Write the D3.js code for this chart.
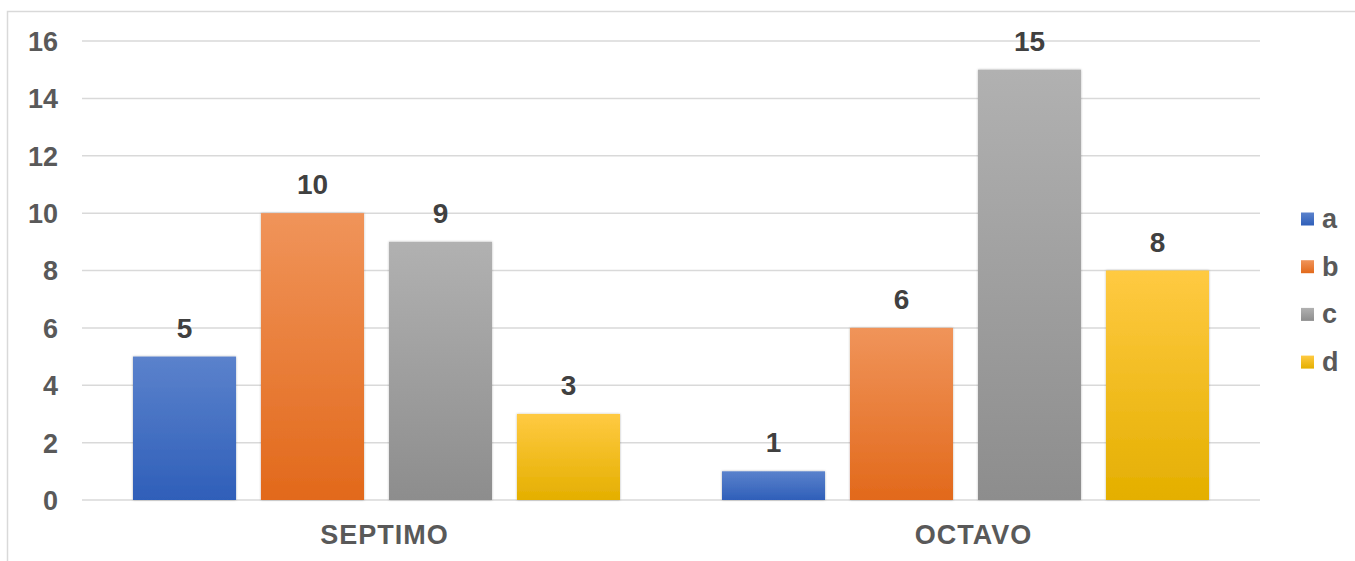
<!DOCTYPE html>
<html><head><meta charset="utf-8">
<script src="https://cdn.jsdelivr.net/npm/d3@7"></script>
<style>body{margin:0;background:#fff;}svg{display:block;font-family:"Liberation Sans",Arial,sans-serif;}</style>
</head><body><svg id="c" width="1355" height="561"></svg>
<script>
const categories = ["SEPTIMO", "OCTAVO"];
const seriesNames = ["a", "b", "c", "d"];
const valuesA = [5, 1];
const valuesB = [10, 6];
const valuesC = [9, 15];
const valuesD = [3, 8];
const yTicks = [0, 2, 4, 6, 8, 10, 12, 14, 16];

const seriesValues = [valuesA, valuesB, valuesC, valuesD];
const colTop = ["#5b82cc", "#f0945a", "#b1b1b1", "#ffca42"];
const colBot = ["#2f5fb9", "#e2691b", "#8d8d8d", "#e4af00"];

const svg = d3.select("#c");
const defs = svg.append("defs");
seriesNames.forEach((s, i) => {
  const g = defs.append("linearGradient").attr("id", "g" + i).attr("x1", 0).attr("y1", 0).attr("x2", 0).attr("y2", 1);
  g.append("stop").attr("offset", "0%").attr("stop-color", colTop[i]);
  g.append("stop").attr("offset", "100%").attr("stop-color", colBot[i]);
});
const f = defs.append("filter").attr("id", "sh").attr("x", "-10%").attr("y", "-10%").attr("width", "120%").attr("height", "120%");
f.append("feDropShadow").attr("dx", 0).attr("dy", 0).attr("stdDeviation", 1.2).attr("flood-color", "#000").attr("flood-opacity", 0.3);

// border
svg.append("rect").attr("x", 7.5).attr("y", 11.5).attr("width", 1360).attr("height", 560)
  .attr("fill", "none").attr("stroke", "#d9d9d9").attr("stroke-width", 1.5);

const x0 = 82, x1 = 1260, yTop = 41, yBot = 500;
const x = d3.scaleBand().domain(categories).range([x0, x1]).paddingInner(0).paddingOuter(0);
const xs = d3.scaleBand().domain(seriesNames).range([51, 589 - 51]).paddingInner(0.195).paddingOuter(0);
const y = d3.scaleLinear().domain([0, 16]).range([yBot, yTop]);

// gridlines
svg.append("g").selectAll("line").data(yTicks).join("line")
  .attr("x1", x0).attr("x2", x1).attr("y1", d => y(d)).attr("y2", d => y(d))
  .attr("stroke", "#d9d9d9").attr("stroke-width", 1.5);

// y tick labels
const yAxis = d3.axisLeft(y).tickValues(yTicks).tickSize(0).tickPadding(0);
const ya = svg.append("g").attr("transform", "translate(58,0)").call(yAxis);
ya.select(".domain").remove();
ya.selectAll("text").attr("font-size", 27).attr("font-weight", "bold").attr("fill", "#595959")
  .attr("font-family", "Liberation Sans, Arial, sans-serif").attr("text-anchor", "end").attr("dy", "0.35em");

// x axis labels
const xAxis = d3.axisBottom(x).tickSize(0).tickPadding(0);
const xa = svg.append("g").attr("transform", `translate(8,${yBot})`).call(xAxis);
xa.select(".domain").remove();
xa.selectAll("text").attr("font-size", 27).attr("font-weight", "bold").attr("fill", "#595959")
  .attr("letter-spacing", "1px")
  .attr("font-family", "Liberation Sans, Arial, sans-serif").attr("y", 43.5).attr("dy", 0);

// bars
categories.forEach((cat, ci) => {
  seriesNames.forEach((s, si) => {
    const v = seriesValues[si][ci];
    const bx = x(cat) + xs(s);
    svg.append("rect").attr("x", bx).attr("y", y(v)).attr("width", xs.bandwidth()).attr("height", y(0) - y(v))
      .attr("fill", `url(#g${si})`).attr("filter", "url(#sh)");
    svg.append("text").attr("x", bx + xs.bandwidth() / 2).attr("y", y(v) - 19)
      .attr("text-anchor", "middle").attr("font-size", 28).attr("font-weight", "bold").attr("fill", "#404040").text(v);
  });
});

// legend
const leg = svg.append("g");
seriesNames.forEach((s, i) => {
  const ly = 219 + i * 47.7;
  leg.append("rect").attr("x", 1301).attr("y", ly - 6.5).attr("width", 13).attr("height", 13).attr("fill", `url(#g${i})`);
  leg.append("text").attr("x", 1322).attr("y", ly).attr("dy", "0.33em").attr("font-size", 27).attr("font-weight", "bold")
    .attr("fill", "#595959").text(s);
});
</script></body></html>
